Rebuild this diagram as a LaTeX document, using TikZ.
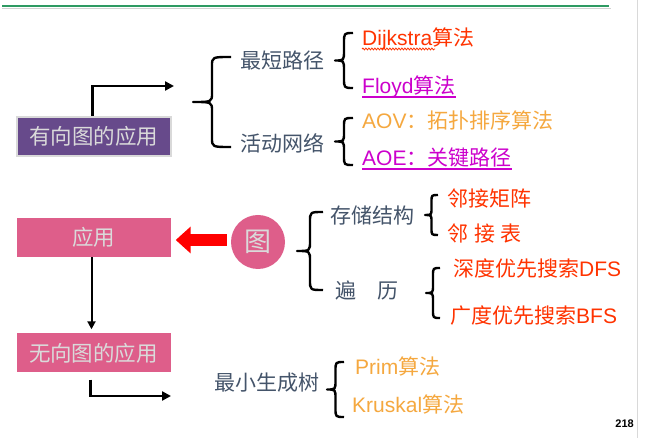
\documentclass[tikz,border=0pt]{standalone}
\usepackage{fontspec}
\setmainfont{Liberation Sans}
\newfontfamily\cjk{Noto Sans CJK SC}
\newfontfamily\lat{Liberation Sans}
\usetikzlibrary{arrows.meta,decorations.pathmorphing}
\definecolor{txtgray}{HTML}{44546A}
\definecolor{algred}{HTML}{FF3300}
\definecolor{algmag}{HTML}{CC00CC}
\definecolor{algorange}{HTML}{F5A83F}
\definecolor{boxpurple}{HTML}{674A8B}
\definecolor{boxpink}{HTML}{DE5E8A}
\definecolor{boxtext}{HTML}{DADADA}
\definecolor{topgreen}{HTML}{2E9A62}
% left curly brace: tip x, end x, top y, bottom y, corner
\newcommand{\Brace}[5]{%
\draw[BraceStyle] (#2,#3) .. controls ({(#1+#2)/2},#3) .. ({(#1+#2)/2},{#3+#5})
  -- ({(#1+#2)/2},{(#3+#4)/2-#5}) .. controls ({(#1+#2)/2},{(#3+#4)/2}) .. (#1,{(#3+#4)/2})
  .. controls ({(#1+#2)/2},{(#3+#4)/2}) .. ({(#1+#2)/2},{(#3+#4)/2+#5})
  -- ({(#1+#2)/2},{#4-#5}) .. controls ({(#1+#2)/2},#4) .. (#2,#4);}

\begin{document}
\begin{tikzpicture}[x=1pt,y=-1pt]
\tikzstyle{BoxStyle}=[
shape = rectangle,
minimum width = 154pt,
minimum height = 39pt,
text = boxtext,
font = \cjk\fontsize{21.5}{25}\selectfont]
\tikzstyle{TextStyle}=[
anchor = base west,
inner sep = 0pt,
font = \cjk\fontsize{21}{25}\selectfont]
\tikzstyle{BraceStyle}=[line width = 2.4pt, line join = round]
\tikzstyle{ElbowArrow}=[line width = 2.6pt, -{Triangle[length=9pt,width=9pt]}]
\useasboundingbox (0,0) rectangle (649,438);
\fill[white] (0,0) rectangle (649,438);
\draw[gray!30, line width = 1pt] (637,0) -- (637,438);
\draw[gray!35, line width = 1pt] (2,8.5) -- (611,8.5);
\draw[topgreen, line width = 2.5pt] (2,6) -- (609,6);
% left column
\node[BoxStyle, fill = boxpurple, draw = gray!30, line width = 1.5pt] (digraph) at (94,136.5) {有向图的应用};
\node[BoxStyle, fill = boxpink] (app) at (93.5,237.5) {应用};
\node[BoxStyle, fill = boxpink] (undigraph) at (93.5,353) {无向图的应用};
\node[circle, minimum size = 54pt, fill = boxpink, text = boxtext,
  font = \cjk\fontsize{27}{30}\selectfont] (graph) at (258,242) {图};
\coordinate (digraphend) at (174,86);
\coordinate (undigraphend) at (171,396);
\draw[ElbowArrow] ([xshift=-1.5pt]digraph.north) |- (digraphend);
\draw[line width = 2pt, -{Triangle[length=8pt,width=8pt]}, shorten >= 4pt] ([xshift=-2pt]app.south) -- ([xshift=-2pt]undigraph.north);
\draw[ElbowArrow] ([xshift=-3pt,yshift=-7pt]undigraph.south) |- (undigraphend);
\draw[red, line width = 12pt, -{Triangle[length=15pt,width=26pt]}, shorten >= 5pt, shorten <= 4pt]
  ([yshift=2pt]graph.west) -- ([yshift=2pt]graph.west -| app.east);
% directed graph
\Brace{193}{231}{57}{147}{9}
\node[TextStyle, txtgray] (shortest) at (240,69) {最短路径};
\node[TextStyle, txtgray] (aonet) at (240,152) {活动网络};
\Brace{335}{353}{33}{88}{10}
\node[TextStyle, algred] (dijkstra) at (362,46) {{\lat Dijkstra}算法};
\node[TextStyle, algmag] (floyd) at (362,94) {{\lat Floyd}算法};
\draw[algred, line width = 0.8pt, decorate, decoration = {snake, amplitude = 0.9pt, segment length = 3pt}]
  ([yshift=-3pt]dijkstra.base west) -- ++(73,0);
\draw[algmag, line width = 1.3pt] ([yshift=-3pt]floyd.base west) -- ([yshift=-3pt]floyd.base east);
\Brace{335}{353}{118}{165}{9}
\node[TextStyle, algorange] (aov) at (362,129) {{\lat AOV}：拓扑排序算法};
\node[TextStyle, algmag] (aoe) at (362,166) {{\lat AOE}：关键路径};
\draw[algmag, line width = 1.3pt] ([yshift=-3pt]aoe.base west) -- ([yshift=-3pt]aoe.base east);
% graph
\Brace{297}{323}{212}{290}{10}
\node[TextStyle, txtgray] (storage) at (330,224) {存储结构};
\node[TextStyle, txtgray] (traverse) at (335,299) {遍　历};
\Brace{425}{438}{195}{235}{7}
\node[TextStyle, algred] (matrix) at (447,207) {邻接矩阵};
\node[TextStyle, algred] (adjlist) at (447,242) {邻{\lat\ }接{\lat\ }表};
\Brace{426}{440}{268}{318}{8}
\node[TextStyle, algred] (dfs) at (453,277) {深度优先搜索{\lat DFS}};
\node[TextStyle, algred] (bfs) at (450,324) {广度优先搜索{\lat BFS}};
% undirected graph
\node[TextStyle, txtgray] (mst) at (214,391) {最小生成树};
\Brace{327}{344}{362}{417}{9}
\node[TextStyle, algorange] (prim) at (355,375) {{\lat Prim}算法};
\node[TextStyle, algorange] (kruskal) at (352,413) {{\lat Kruskal}算法};
\node[anchor = base east, inner sep = 0pt, font = \lat\bfseries\fontsize{11}{13}\selectfont] (page) at (634,428) {218};
\end{tikzpicture}
\end{document}
